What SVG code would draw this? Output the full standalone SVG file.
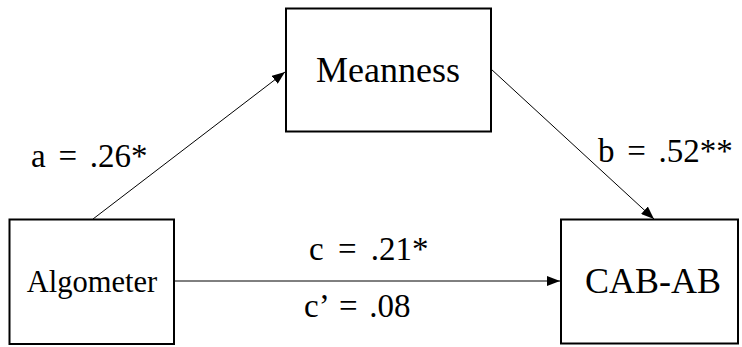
<svg xmlns="http://www.w3.org/2000/svg" width="742" height="347" viewBox="0 0 742 347">
<style>
.box{fill:#fff;stroke:#000;stroke-width:2}
.t{font-family:"Liberation Serif","Times New Roman",serif;fill:#000}
.lbl{font-size:33px;word-spacing:4.5px}
.edge{stroke:#000;stroke-width:1;fill:none}
</style>
<defs>
<marker id="ah" viewBox="0 0 13 10" refX="13" refY="5" markerWidth="13" markerHeight="10" markerUnits="userSpaceOnUse" orient="auto">
<path d="M0,0 L13,5 L0,10 Z" fill="#000"/>
</marker>
</defs>
<rect width="742" height="347" fill="#fff"/>
<g id="connectors">
<line class="edge" x1="93" y1="219" x2="285" y2="72" marker-end="url(#ah)"/>
<line class="edge" x1="491" y1="69" x2="654" y2="219" marker-end="url(#ah)"/>
<line class="edge" x1="175" y1="281" x2="560" y2="281" marker-end="url(#ah)"/>
<text class="t lbl" x="31" y="167">a = .26*</text>
<text class="t lbl" x="598" y="162">b = .52**</text>
<text class="t lbl" x="309" y="260" style="word-spacing:6px">c = .21*</text>
<text class="t lbl" x="304" y="317" style="word-spacing:3.5px">c’ = .08</text>
</g>
<g id="meanness">
<rect class="box" x="286" y="8.5" width="205" height="123"/>
<text class="t" x="388" y="82" font-size="36" text-anchor="middle">Meanness</text>
</g>
<g id="algometer">
<rect class="box" x="9.5" y="219.5" width="164.5" height="124.5"/>
<text class="t" x="92" y="292" font-size="30.5" text-anchor="middle">Algometer</text>
</g>
<g id="cabab">
<rect class="box" x="561" y="219.5" width="177" height="124"/>
<text class="t" x="653" y="293" font-size="36" text-anchor="middle">CAB-AB</text>
</g>
</svg>
